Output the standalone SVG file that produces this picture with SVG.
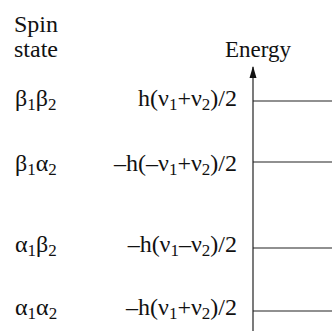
<svg xmlns="http://www.w3.org/2000/svg" width="332" height="331" viewBox="0 0 332 331">
<defs>
<marker id="ah" viewBox="0 0 12 8" refX="11" refY="4" markerWidth="12" markerHeight="8" markerUnits="userSpaceOnUse" orient="auto">
<path d="M12,4 L0,0.5 L0,7.5 Z" fill="#111"/>
</marker>
</defs>
<rect width="332" height="331" fill="#fff"/>
<g id="header">
<text x="14" y="32" font-family="Liberation Serif" font-size="24" fill="#111">Spin</text>
<text x="14" y="57" font-family="Liberation Serif" font-size="24" fill="#111">state</text>
<text x="258" y="57" text-anchor="middle" font-family="Liberation Serif" font-size="23" fill="#111">Energy</text>
</g>
<g id="connectors" stroke="#222" stroke-width="1.2" fill="none">
<line x1="253" y1="331" x2="253" y2="67" marker-end="url(#ah)"/>
<line x1="253" y1="101" x2="332" y2="101"/>
<line x1="253" y1="162" x2="332" y2="162"/>
<line x1="253" y1="248" x2="332" y2="248"/>
<line x1="253" y1="311" x2="332" y2="311"/>
</g>
<g id="b1b2">
<text x="15" y="106" font-family="Liberation Serif" font-size="24" fill="#111">β<tspan font-size="17" dy="4">1</tspan><tspan dy="-4">β</tspan><tspan font-size="17" dy="4">2</tspan></text>
<text x="237" y="106" text-anchor="end" font-family="Liberation Serif" font-size="24" fill="#111">h(ν<tspan font-size="17" dy="4">1</tspan><tspan dy="-4">+ν</tspan><tspan font-size="17" dy="4">2</tspan><tspan dy="-4">)/2</tspan></text>
</g>
<g id="b1a2">
<text x="15" y="171" font-family="Liberation Serif" font-size="24" fill="#111">β<tspan font-size="17" dy="4">1</tspan><tspan dy="-4">α</tspan><tspan font-size="17" dy="4">2</tspan></text>
<text x="237" y="171" text-anchor="end" font-family="Liberation Serif" font-size="24" fill="#111">–h(–ν<tspan font-size="17" dy="4">1</tspan><tspan dy="-4">+ν</tspan><tspan font-size="17" dy="4">2</tspan><tspan dy="-4">)/2</tspan></text>
</g>
<g id="a1b2">
<text x="15" y="252" font-family="Liberation Serif" font-size="24" fill="#111">α<tspan font-size="17" dy="4">1</tspan><tspan dy="-4">β</tspan><tspan font-size="17" dy="4">2</tspan></text>
<text x="237" y="252" text-anchor="end" font-family="Liberation Serif" font-size="24" fill="#111">–h(ν<tspan font-size="17" dy="4">1</tspan><tspan dy="-4">–ν</tspan><tspan font-size="17" dy="4">2</tspan><tspan dy="-4">)/2</tspan></text>
</g>
<g id="a1a2">
<text x="15" y="315" font-family="Liberation Serif" font-size="24" fill="#111">α<tspan font-size="17" dy="4">1</tspan><tspan dy="-4">α</tspan><tspan font-size="17" dy="4">2</tspan></text>
<text x="237" y="315" text-anchor="end" font-family="Liberation Serif" font-size="24" fill="#111">–h(ν<tspan font-size="17" dy="4">1</tspan><tspan dy="-4">+ν</tspan><tspan font-size="17" dy="4">2</tspan><tspan dy="-4">)/2</tspan></text>
</g>
</svg>
